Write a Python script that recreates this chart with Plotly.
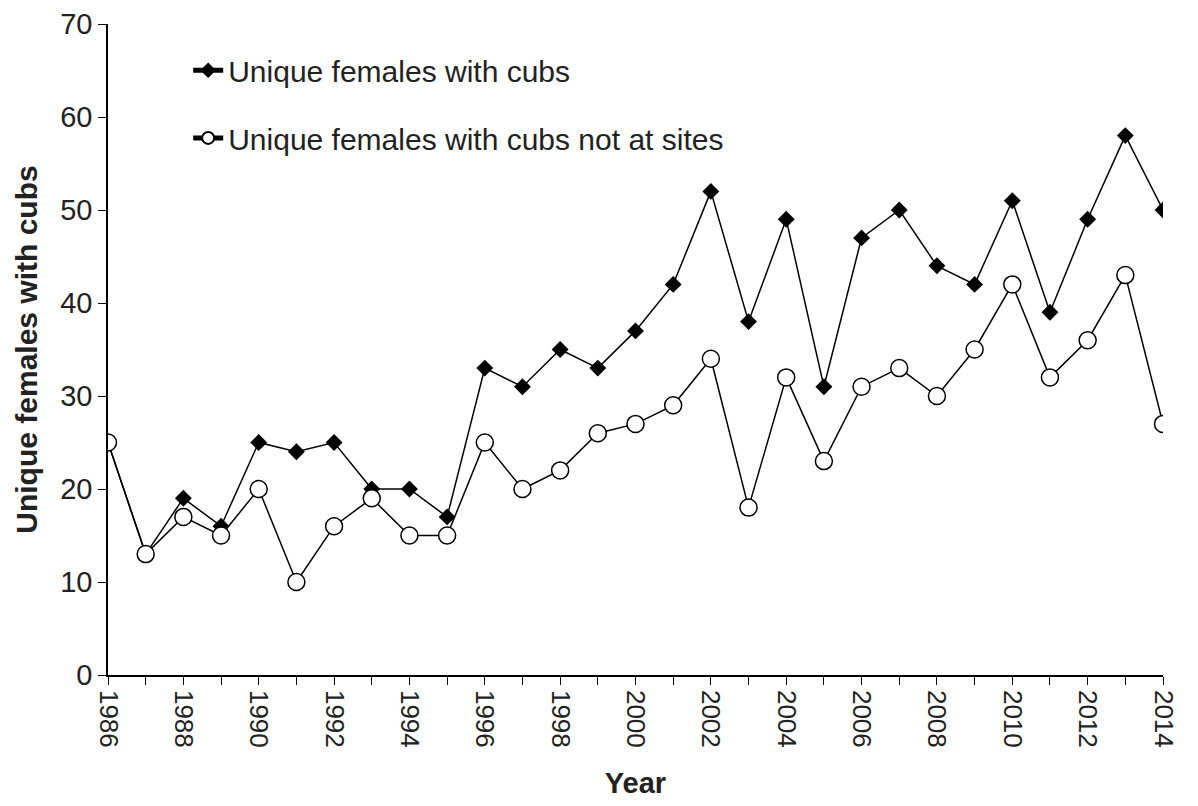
import plotly.graph_objects as go

years = list(range(1986, 2015))
with_cubs = [25, 13, 19, 16, 25, 24, 25, 20, 20, 17, 33, 31, 35, 33, 37, 42, 52, 38, 49, 31, 47, 50, 44, 42, 51, 39, 49, 58, 50]
not_at_sites = [25, 13, 17, 15, 20, 10, 16, 19, 15, 15, 25, 20, 22, 26, 27, 29, 34, 18, 32, 23, 31, 33, 30, 35, 42, 32, 36, 43, 27]
tick_years = list(range(1986, 2015, 2))

font = "Liberation Sans, Arial, sans-serif"

fig = go.Figure()
fig.add_trace(go.Scatter(
    x=years, y=with_cubs, mode="lines+markers",
    name="Unique females with cubs",
    line=dict(color="black", width=1.5),
    marker=dict(symbol="diamond", size=13, color="black"),
    legend="legend", showlegend=True,
))
fig.add_trace(go.Scatter(
    x=years, y=not_at_sites, mode="lines+markers",
    name="Unique females with cubs not at sites",
    line=dict(color="black", width=1.5),
    marker=dict(symbol="circle", size=17, color="white", line=dict(color="black", width=1.5)),
    legend="legend2", showlegend=True,
))

legend_common = dict(
    font=dict(family=font, size=30, color="#222"),
    bgcolor="rgba(0,0,0,0)", xanchor="left", yanchor="middle",
    itemwidth=30, itemsizing="constant",
)
fig.update_layout(
    width=1190, height=798,
    margin=dict(l=100, r=35, t=16, b=131, autoexpand=False),
    paper_bgcolor="white", plot_bgcolor="white",
    showlegend=True,
    font=dict(family=font, size=22, color="#222"),
    legend=dict(x=0.076, y=0.929, **legend_common),
    legend2=dict(x=0.076, y=0.825, **legend_common),
    xaxis=dict(
        range=[1986, 2014], tickmode="array", tickvals=tick_years,
        ticktext=[str(y) for y in tick_years], tickangle=90,
        showline=True, linecolor="black", linewidth=1.5,
        ticks="outside", ticklen=8, tickcolor="black",
        minor=dict(ticks="outside", ticklen=8, tickcolor="black", dtick=1, tick0=1986),
        showgrid=False, zeroline=False, automargin=False,
        tickfont=dict(family=font, size=26, color="#222"),
        title=dict(text="<b>Year</b>", font=dict(family=font, size=29, color="#222"), standoff=26),
    ),
    yaxis=dict(
        range=[0, 70], dtick=10,
        showline=True, linecolor="black", linewidth=1.5,
        ticks="outside", ticklen=8, tickcolor="black",
        showgrid=False, zeroline=False, automargin=False,
        tickfont=dict(family=font, size=29, color="#222"),
        title=dict(text="<b>Unique females with cubs</b>", font=dict(family=font, size=30, color="#222"), standoff=14),
    ),
)

fig.write_html("out.html")
